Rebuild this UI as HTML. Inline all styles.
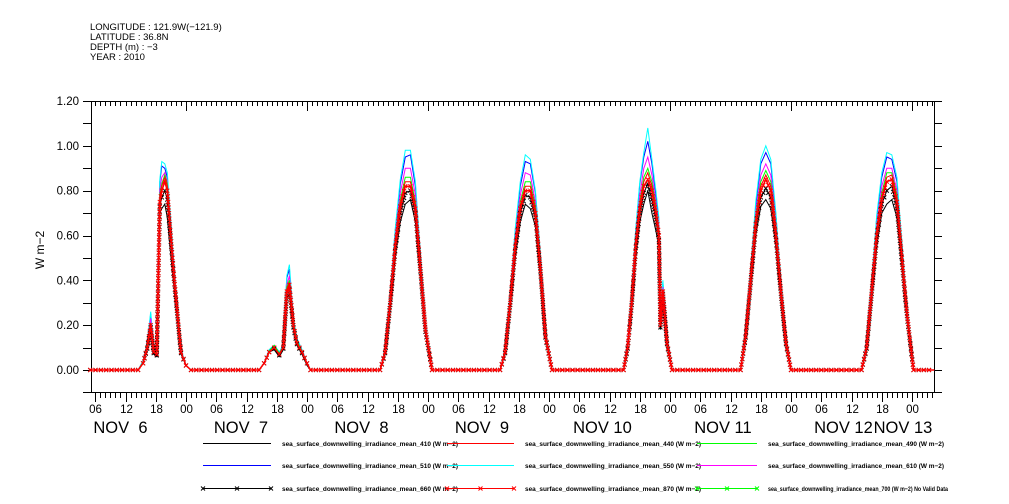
<!DOCTYPE html>
<html><head><meta charset="utf-8"><style>
html,body{margin:0;padding:0;background:#fff;}
svg{display:block;font-family:"Liberation Sans",sans-serif;}
</style></head><body>
<svg id="chart" width="1009" height="504" viewBox="0 0 1009 504">
<g font-size="9.5" fill="#000">
<text x="90" y="30">LONGITUDE : 121.9W(−121.9)</text>
<text x="90" y="40">LATITUDE : 36.8N</text>
<text x="90" y="50">DEPTH (m) : −3</text>
<text x="90" y="60">YEAR : 2010</text>
</g>
<text x="44" y="250" transform="rotate(-90 44 250)" font-size="12" text-anchor="middle">W m−2</text>
<g id="axes"></g>
<g id="series"></g>
<g id="legend"></g>
</svg>
<script>
const yTicks=[0,0.2,0.4,0.6,0.8,1.0,1.2];
const hourLabels=["06","12","18","00"];
const dayLabels=["NOV  6","NOV  7","NOV  8","NOV  9","NOV 10","NOV 11","NOV 12","NOV 13"];
const times=[5,
14.5,15.5,16.3,17,17.6,18.2,18.8,19.2,19.8,20.3,20.8,21.5,22.3,23,24,25,
38.5,39.5,40.5,41.5,42.5,43.3,44,44.5,45.3,46,47,48,48.7,
62.5,63.5,64.5,65.5,66.5,67.5,68.5,69.5,70.5,71.5,72.8,
86.3,87.3,88.3,89.3,90.3,91.3,92.3,93.3,94.3,95.3,96.6,
110.8,111.6,112.4,113.2,114,114.8,115.6,116.4,117.2,117.8,118.1,118.6,119.4,120.4,
134,135,136,137,138,139,140,141,142,143,144,
158,159,160,161,162,163,164,165,166,167,168.3,
172.4];
const s870=[0,
0,0.03,0.1,0.2,0.08,0.07,0.75,0.8,0.84,0.8,0.65,0.45,0.25,0.08,0.02,0,
0,0.03,0.08,0.1,0.07,0.1,0.35,0.38,0.2,0.12,0.08,0.03,0,
0,0.08,0.3,0.55,0.73,0.82,0.82,0.72,0.45,0.18,0,
0,0.08,0.3,0.55,0.72,0.8,0.8,0.7,0.45,0.15,0,
0,0.1,0.3,0.55,0.72,0.82,0.85,0.8,0.7,0.6,0.2,0.35,0.12,0,
0,0.15,0.4,0.65,0.8,0.85,0.8,0.6,0.35,0.12,0,
0,0.1,0.35,0.6,0.76,0.84,0.85,0.75,0.5,0.25,0,
0];
const s440=[0,
0,0.03,0.1,0.21,0.08,0.07,0.77,0.82,0.86,0.82,0.66,0.46,0.25,0.08,0.02,0,
0,0.03,0.08,0.1,0.07,0.1,0.36,0.39,0.2,0.12,0.08,0.03,0,
0,0.08,0.3,0.56,0.74,0.84,0.84,0.73,0.46,0.18,0,
0,0.08,0.3,0.56,0.73,0.82,0.82,0.71,0.46,0.15,0,
0,0.1,0.3,0.56,0.73,0.84,0.88,0.82,0.71,0.61,0.2,0.36,0.12,0,
0,0.15,0.41,0.66,0.82,0.87,0.82,0.61,0.35,0.12,0,
0,0.1,0.35,0.61,0.77,0.86,0.87,0.76,0.51,0.25,0,
0];
const s550=[0,
0,0.04,0.12,0.26,0.1,0.08,0.85,0.93,0.92,0.88,0.72,0.5,0.28,0.09,0.02,0,
0,0.03,0.09,0.11,0.08,0.11,0.42,0.47,0.23,0.14,0.09,0.03,0,
0,0.09,0.34,0.63,0.85,0.98,0.98,0.84,0.52,0.2,0,
0,0.09,0.34,0.63,0.84,0.96,0.94,0.8,0.52,0.17,0,
0,0.12,0.35,0.63,0.84,0.97,1.08,0.94,0.8,0.68,0.23,0.4,0.14,0,
0,0.17,0.46,0.75,0.94,1.0,0.94,0.7,0.4,0.14,0,
0,0.12,0.4,0.69,0.88,0.97,0.96,0.86,0.57,0.28,0,
0];
const s510=[0,
0,0.04,0.12,0.25,0.1,0.08,0.84,0.91,0.9,0.86,0.7,0.49,0.27,0.09,0.02,0,
0,0.03,0.09,0.11,0.08,0.11,0.41,0.45,0.22,0.14,0.09,0.03,0,
0,0.09,0.33,0.62,0.83,0.95,0.96,0.82,0.51,0.2,0,
0,0.09,0.33,0.62,0.82,0.93,0.92,0.79,0.51,0.17,0,
0,0.12,0.34,0.62,0.83,0.95,1.02,0.92,0.78,0.66,0.22,0.39,0.14,0,
0,0.17,0.45,0.73,0.92,0.97,0.92,0.69,0.39,0.14,0,
0,0.12,0.39,0.68,0.86,0.95,0.94,0.84,0.56,0.27,0,
0];
const s610=[0,
0,0.035,0.11,0.23,0.09,0.075,0.8,0.86,0.88,0.84,0.68,0.47,0.26,0.085,0.02,0,
0,0.03,0.085,0.105,0.075,0.105,0.38,0.42,0.21,0.13,0.085,0.03,0,
0,0.085,0.32,0.59,0.79,0.9,0.9,0.78,0.48,0.19,0,
0,0.085,0.32,0.59,0.78,0.88,0.87,0.75,0.48,0.16,0,
0,0.11,0.32,0.59,0.78,0.9,0.95,0.87,0.75,0.64,0.21,0.37,0.13,0,
0,0.16,0.43,0.7,0.87,0.92,0.87,0.65,0.37,0.13,0,
0,0.11,0.37,0.64,0.82,0.9,0.9,0.8,0.53,0.26,0,
0];
const s490=[0,
0,0.035,0.11,0.21,0.085,0.075,0.78,0.83,0.87,0.83,0.67,0.46,0.26,0.085,0.02,0,
0,0.03,0.085,0.11,0.075,0.105,0.37,0.4,0.21,0.13,0.085,0.03,0,
0,0.085,0.31,0.57,0.76,0.86,0.86,0.75,0.47,0.19,0,
0,0.085,0.31,0.57,0.75,0.84,0.84,0.73,0.47,0.16,0,
0,0.105,0.31,0.57,0.75,0.86,0.9,0.84,0.73,0.62,0.21,0.36,0.13,0,
0,0.16,0.42,0.68,0.84,0.89,0.84,0.63,0.36,0.13,0,
0,0.105,0.36,0.62,0.79,0.88,0.88,0.78,0.52,0.26,0,
0];
const s410=[0,
0,0.03,0.09,0.18,0.07,0.06,0.7,0.72,0.74,0.68,0.55,0.4,0.22,0.07,0.02,0,
0,0.03,0.08,0.09,0.06,0.09,0.32,0.34,0.18,0.11,0.07,0.02,0,
0,0.07,0.27,0.5,0.66,0.74,0.76,0.66,0.42,0.16,0,
0,0.07,0.28,0.5,0.66,0.74,0.72,0.64,0.41,0.14,0,
0,0.09,0.27,0.5,0.66,0.74,0.8,0.7,0.62,0.55,0.18,0.32,0.11,0,
0,0.14,0.37,0.6,0.73,0.76,0.72,0.55,0.32,0.11,0,
0,0.09,0.32,0.55,0.7,0.74,0.76,0.68,0.46,0.23,0,
0];
const s660=[0,
0,0.03,0.095,0.19,0.075,0.065,0.73,0.77,0.8,0.76,0.62,0.43,0.24,0.075,0.02,0,
0,0.03,0.08,0.095,0.065,0.095,0.34,0.36,0.19,0.115,0.075,0.03,0,
0,0.075,0.29,0.53,0.7,0.79,0.8,0.7,0.44,0.17,0,
0,0.075,0.29,0.53,0.7,0.78,0.77,0.68,0.44,0.145,0,
0,0.095,0.29,0.53,0.7,0.79,0.83,0.76,0.67,0.58,0.19,0.34,0.115,0,
0,0.145,0.39,0.63,0.77,0.81,0.77,0.58,0.34,0.115,0,
0,0.095,0.34,0.58,0.74,0.8,0.82,0.72,0.48,0.24,0,
0];
const legendNames=["sea_surface_downwelling_irradiance_mean_410 (W m−2)","sea_surface_downwelling_irradiance_mean_440 (W m−2)","sea_surface_downwelling_irradiance_mean_490 (W m−2)","sea_surface_downwelling_irradiance_mean_510 (W m−2)","sea_surface_downwelling_irradiance_mean_550 (W m−2)","sea_surface_downwelling_irradiance_mean_610 (W m−2)","sea_surface_downwelling_irradiance_mean_660 (W m−2)","sea_surface_downwelling_irradiance_mean_870 (W m−2)","sea_surface_downwelling_irradiance_mean_700 (W m−2) No Valid Data"];

const NS="http://www.w3.org/2000/svg";
const X0=91,X1=934,Y0=101,Y1=392;
const T0=5.16,T1=172.4;
function xs(t){return 65+t*121/24;}
function ys(v){return 370-v*(370-101)/1.2;}
function mk(tag,attrs,parent){const e=document.createElementNS(NS,tag);for(const k in attrs)e.setAttribute(k,attrs[k]);parent.appendChild(e);return e;}
const axes=document.getElementById('axes');
const frame=mk('rect',{x:X0+0.5,y:Y0+0.5,width:X1-X0,height:Y1-Y0,fill:'none',stroke:'#000','stroke-width':1},axes);


for(let v=-0.1;v<=1.2001;v+=0.1){
  const y=Math.round(ys(v))+0.5;
  const a=mk('line',{x1:X0-8,x2:X0,y1:y,y2:y,stroke:'#000'},axes);
  
  
  const b=mk('line',{x1:X1,x2:X1+8,y1:y,y2:y,stroke:'#000'},axes);
  
  
}
yTicks.forEach(v=>{
  const t=mk('text',{x:X0-12,y:ys(v)+4,'font-size':11.5,'text-anchor':'end'},axes);
  t.textContent=v.toFixed(2);
  
  
});
for(let h=Math.ceil(T0);h<=T1;h++){
  const x=Math.round(xs(h))+0.5;
  const major=h%6===0, mid=h%24===0;
  const b=mk('line',{x1:x,x2:x,y1:Y1,y2:Y1+(major?10:6),stroke:'#000'},axes);
  
  
  const tp=mk('line',{x1:x,x2:x,y1:Y0,y2:Y0+(mid?10:5),stroke:'#000'},axes);
  
  
  if(major){
    const l=mk('text',{x:x,y:413,'font-size':11.5,'text-anchor':'middle'},axes);
    l.textContent=hourLabels[((h%24)/6+3)%4];
    
    
  }
}
dayLabels.forEach((d,i)=>{
  let x=xs(i*24+11-i*0.1);
  if(i===7)x=903;
  const l=mk('text',{x:x,y:433,'font-size':16.5,'text-anchor':'middle'},axes);
  l.textContent=d;
  l.style.whiteSpace='pre';
  
  
});
const sg=document.getElementById('series');
function pts(arr){return times.map((t,i)=>xs(t).toFixed(1)+','+ys(arr[i]).toFixed(1)).join(' ');}
function line(arr,color,name,w){
  const p=mk('polyline',{points:pts(arr),fill:'none',stroke:color,'stroke-width':w||1},sg);
  
  
}
function markers(arr,color,name){
  const g=mk('g',{stroke:color,'stroke-width':1},sg);
  
  
  let d='';
  for(let i=0;i<times.length-1;i++){
    const xa=xs(times[i]),ya=ys(arr[i]),xb=xs(times[i+1]),yb=ys(arr[i+1]);
    const len=Math.hypot(xb-xa,yb-ya);const n=Math.max(1,Math.floor(len/5));
    for(let k=0;k<n;k++){const f=k/n;const x=xa+(xb-xa)*f,y=ya+(yb-ya)*f;
      d+=`M${(x-2).toFixed(1)},${(y-2).toFixed(1)}L${(x+2).toFixed(1)},${(y+2).toFixed(1)}M${(x-2).toFixed(1)},${(y+2).toFixed(1)}L${(x+2).toFixed(1)},${(y-2).toFixed(1)}`;}
  }
  mk('path',{d:d,fill:'none'},g);
}
line(s410,'#000','series-410');
line(s510,'#0000ff','series-510');
line(s550,'#00ffff','series-550');
line(s610,'#ff00ff','series-610');
line(s490,'#00ff00','series-490');
line(s660,'#000','series-660');
markers(s660,'#000','series-660-markers');
line(s440,'#ff0000','series-440');
line(s870,'#ff0000','series-870',1.5);
markers(s870,'#ff0000','series-870-markers');
const lg=document.getElementById('legend');
const cols=[[203,271,282],[447,514,525],[697,757,768]];
const rows=[443,465,488];
const lcolors=['#000000','#ff0000','#00ff00','#0000ff','#00ffff','#ff00ff','#000000','#ff0000','#00ff00'];
legendNames.forEach((nm,i)=>{
  const c=cols[i%3],y=rows[Math.floor(i/3)]+0.5;
  const g=mk('g',{},lg);
  
  
  mk('line',{x1:c[0],x2:c[1],y1:y,y2:y,stroke:lcolors[i],'stroke-width':1.3,'shape-rendering':'crispEdges'},g);
  if(i>=6){[c[0],(c[0]+c[1])/2,c[1]].forEach(x=>mk('path',{d:`M${x-2},${y-2}L${x+2},${y+2}M${x-2},${y+2}L${x+2},${y-2}`,stroke:lcolors[i]},g));}
  const t=mk('text',{x:c[2],y:y+2.5,'font-size':6.5,'font-weight':'bold'},g);
  t.textContent=nm;
  t.setAttribute('textLength',i===8?180:176);
  t.setAttribute('lengthAdjust','spacingAndGlyphs');
});
</script>
</body></html>
